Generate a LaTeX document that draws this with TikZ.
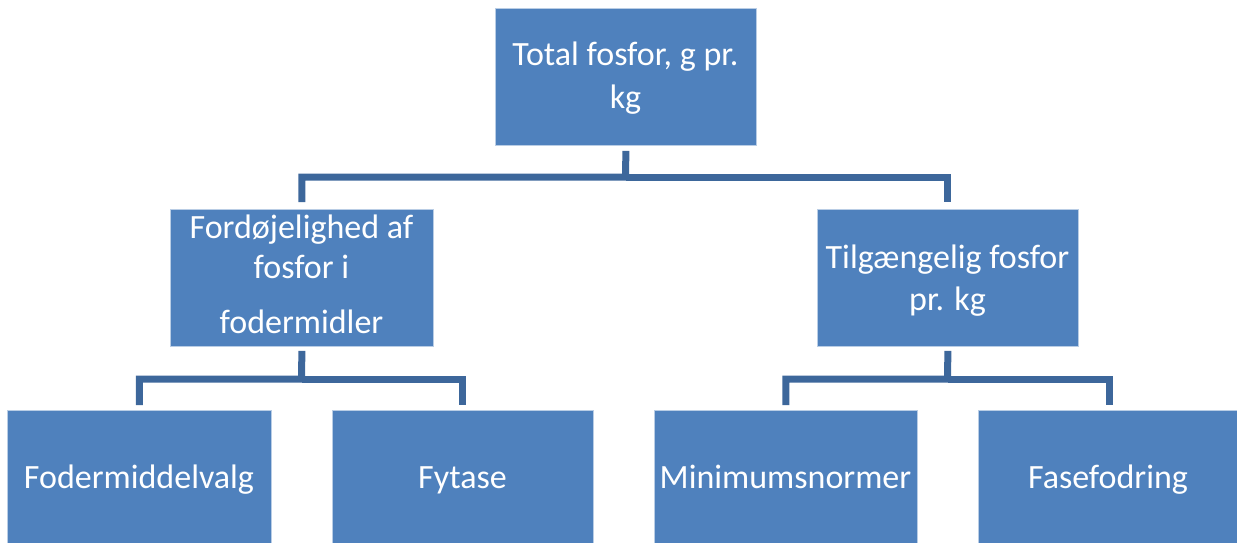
\documentclass[tikz,border=0pt]{standalone}
\usepackage{fontspec}
\setmainfont{Carlito}
\begin{document}
\begin{tikzpicture}[x=1pt,y=-1pt,
  box/.style={draw=boxline,line width=0.8pt,fill=boxfill,minimum width=262pt,minimum height=137pt,inner sep=0pt,anchor=north west},
  txt/.style={text=white,anchor=base,inner sep=0pt,font=\fontsize{34}{41}\selectfont},
  conn/.style={draw=connblue,line width=7pt,line join=miter}]
\definecolor{boxfill}{HTML}{4F81BD}
\definecolor{boxline}{HTML}{B9CDE5}
\definecolor{connblue}{HTML}{3D679B}
\useasboundingbox (0,0) rectangle (1237,542);
\clip (0,0) rectangle (1237,542);
% boxes
\node[box,minimum width=261pt] (top) at (495,8) {};
\node[box,minimum width=263pt] (m1) at (170,209) {};
\node[box,minimum width=261pt] (m2) at (817,209) {};
\node[box,minimum width=264pt] (b1) at (7,410) {};
\node[box,minimum width=261pt] (b2) at (332,410) {};
\node[box,minimum width=263pt] (b3) at (654,410) {};
\node[box,minimum width=262pt] (b4) at (978,410) {};
% texts
\node[txt] (t1) at (625.5,65) {Total fosfor, g pr.};
\node[txt] (t2) at (625.5,108) {kg};
\node[txt] (t3) at (301.5,238) {Fordøjelighed af};
\node[txt] (t4) at (301.5,278) {fosfor i};
\node[txt] (t5) at (301.5,333) {fodermidler};
\node[txt] (t6) at (947.5,268) {Tilgængelig fosfor};
\node[txt] (t7) at (947.5,310) {pr. kg};
\node[txt] (t8) at (139,488) {Fodermiddelvalg};
\node[txt] (t9) at (462.5,488) {Fytase};
\node[txt] (t10) at (785.5,488) {Minimumsnormer};
\node[txt] (t11) at (1108,488) {Fasefodring};
% connector junctions
\coordinate (j0) at (625.5,177);
\coordinate (j1) at (301.5,379);
\coordinate (j2) at (947.5,379);
% connectors
\draw[conn] ([yshift=-5pt]top.south) -- (j0) -| ([yshift=7pt]m1.north);
\draw[conn] (j0) -| ([yshift=7pt]m2.north);
\draw[conn] ([yshift=-4pt]m1.south) -- (j1) -| ([yshift=5pt]b1.north);
\draw[conn] (j1) -| ([yshift=5pt]b2.north);
\draw[conn] ([yshift=-4pt]m2.south) -- (j2) -| ([yshift=5pt]b3.north);
\draw[conn] (j2) -| ([yshift=5pt]b4.north);
\end{tikzpicture}
\end{document}
